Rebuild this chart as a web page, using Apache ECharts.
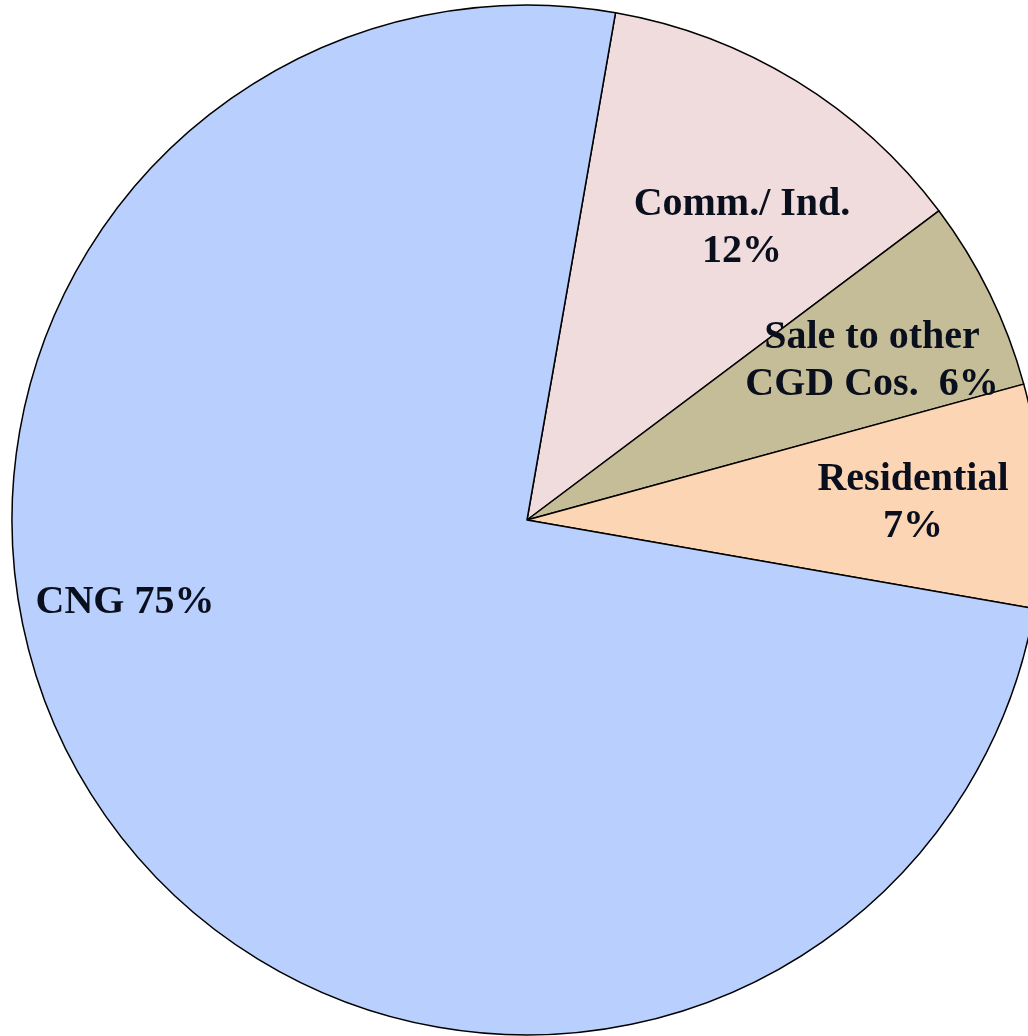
<!DOCTYPE html>
<html>
<head>
<meta charset="utf-8">
<script src="https://cdn.jsdelivr.net/npm/echarts@6/dist/echarts.min.js"></script>
<style>
  html, body { margin: 0; padding: 0; background: #fff; }
  #chart { width: 1028px; height: 1036px; }
</style>
</head>
<body>
<div id="chart"></div>
<script>
// 数据
var categories = ['Comm./ Ind.', 'Sale to other CGD Cos.', 'Residential', 'CNG'];
var shares = [12, 6, 7, 75];
var labelTexts = ['Comm./ Ind.\n12%', 'Sale to other\nCGD Cos.  6%', 'Residential\n7%', 'CNG 75%'];
var colors = ['#F0DCDC', '#C4BD97', '#FCD5B5', '#B9CFFD'];

// 标签位置
var labelSpots = [[742, 228], [872, 361], [913, 503], [125, 603]];

var chart = echarts.init(document.getElementById('chart'));
chart.setOption({
    animation: false,
    color: colors,
    series: [{
        type: 'pie',
        center: [527, 520],
        radius: 515,
        startAngle: 80.1,
        clockwise: true,
        avoidLabelOverlap: false,
        itemStyle: {
            borderColor: '#000',
            borderWidth: 1.5
        },
        label: {
            show: true,
            position: 'inside',
            formatter: function (p) {
                return labelTexts[p.dataIndex];
            },
            fontFamily: '"Liberation Serif", "DejaVu Serif", serif',
            fontWeight: 'bold',
            fontSize: 40,
            lineHeight: 47,
            color: '#0a0f1e',
            align: 'center'
        },
        labelLine: { show: false },
        labelLayout: function (params) {
            var s = labelSpots[params.dataIndex];
            return { x: s[0], y: s[1], align: 'center', verticalAlign: 'middle' };
        },
        data: categories.map(function (c, i) {
            return { name: c, value: shares[i] };
        })
    }]
});
</script>
</body>
</html>
